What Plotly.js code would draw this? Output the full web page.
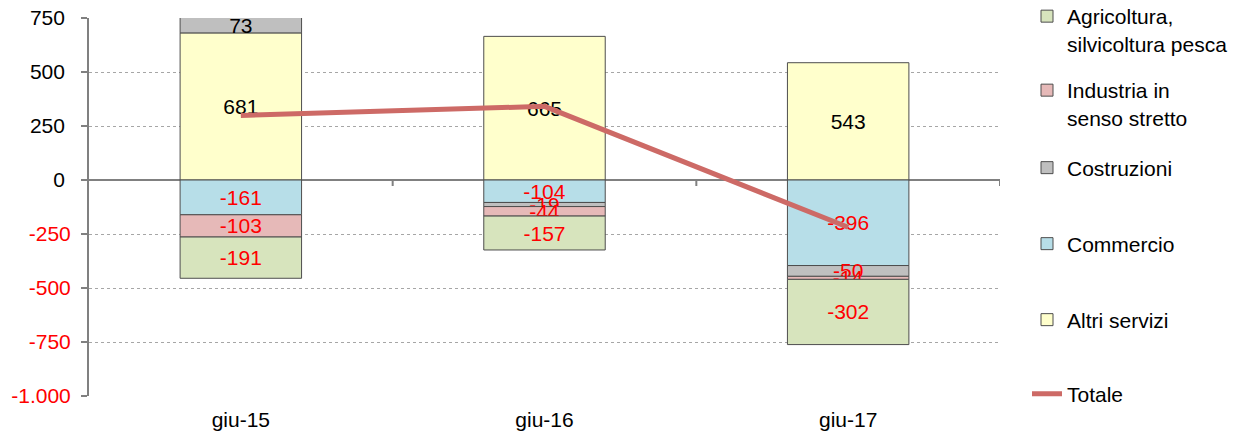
<!DOCTYPE html>
<html>
<head>
<meta charset="utf-8">
<script src="https://cdn.plot.ly/plotly-3.0.1.min.js"></script>
<style>html,body{margin:0;padding:0;background:#fff}#chart{width:1241px;height:434px}</style>
</head>
<body>
<div id="chart"></div>
<script>
const categories = ['giu-15', 'giu-16', 'giu-17'];
const agricoltura = [-191, -157, -302];
const industria = [-103, -44, -14];
const costruzioni = [73, -19, -50];
const commercio = [-161, -104, -396];
const altriServizi = [681, 665, 543];
const totale = [299, 341, -219];
const yTickVals = [-1000, -750, -500, -250, 0, 250, 500, 750];
const yTickText = ['-1.000', '-750', '-500', '-250', '0', '250', '500', '750'];

const FONT = 'Liberation Sans, Arial, sans-serif';
const FS = 21;

function barTrace(name, vals, color, legendId) {
  return {
    type: 'bar', name: name, x: categories, y: vals,
    marker: {color: color, line: {color: '#4d4d4d', width: 1}},
    text: vals.map(v => String(v)),
    textposition: 'inside', insidetextanchor: 'middle', constraintext: 'none', textangle: 0,
    textfont: {family: FONT, size: FS, color: vals.map(v => v < 0 ? '#ff0000' : '#000000')},
    hoverinfo: 'skip', legend: legendId
  };
}

const traces = [
  barTrace('Altri servizi', altriServizi, '#ffffcc', 'legend5'),
  barTrace('Commercio', commercio, '#b7dee8', 'legend4'),
  barTrace('Costruzioni', costruzioni, '#bfbfbf', 'legend3'),
  barTrace('Industria in<br>senso stretto', industria, '#e6b9b8', 'legend2'),
  barTrace('Agricoltura,<br>silvicoltura pesca', agricoltura, '#d7e4bd', 'legend'),
  {type: 'scatter', mode: 'lines', name: 'Totale', x: categories, y: totale,
   line: {color: '#cd6a66', width: 5}, hoverinfo: 'skip', legend: 'legend6'}
];

const W = 911, H = 378;
function px2x(px) { return (px - 89) / W; }
function px2y(py) { return (396 - py) / H; }
function leg(py, anchor) {
  return {x: px2x(1027), y: px2y(py), xanchor: 'left', yanchor: anchor,
          font: {family: FONT, size: FS, color: '#000'}, bgcolor: 'rgba(0,0,0,0)',
          valign: 'top', itemclick: false, itemdoubleclick: false};
}

const tickShapes = [0.5, 1.5, 2.5].map(x => ({
  type: 'line', xref: 'x', yref: 'y', x0: x, x1: x,
  ysizemode: 'pixel', yanchor: 0, y0: 0, y1: -6,
  line: {color: '#808080', width: 2}
}));

const layout = {
  width: 1241, height: 434,
  margin: {l: 89, r: 241, t: 18, b: 38, autoexpand: false},
  paper_bgcolor: '#fff', plot_bgcolor: '#fff',
  barmode: 'relative', bargap: 0.6,
  font: {family: FONT, size: FS, color: '#000'},
  showlegend: true,
  xaxis: {type: 'category', range: [-0.5, 2.5], showgrid: false, showline: false, ticks: '',
          zeroline: false, tickfont: {family: FONT, size: FS, color: '#000'}, ticklabelstandoff: 9,
          automargin: false},
  yaxis: {range: [-1000, 750], tickvals: yTickVals,
          ticktext: yTickText.map((t, i) => yTickVals[i] < 0 ? '<span style="color:#ff0000">' + t + '</span>' : t + '\u00a0'),
          showgrid: true, gridcolor: '#a6a6a6', griddash: 'dot', gridwidth: 1,
          zeroline: true, zerolinecolor: '#808080', zerolinewidth: 2,
          showline: true, linecolor: '#808080', linewidth: 2,
          ticks: 'outside', ticklen: 6, tickwidth: 2, tickcolor: '#808080',
          tickfont: {family: FONT, size: FS, color: '#000'}, ticklabelstandoff: 6,
          automargin: false},
  legend: leg(-4, 'top'),
  legend2: leg(70, 'top'),
  legend3: leg(168, 'middle'),
  legend4: leg(244, 'middle'),
  legend5: leg(320, 'middle'),
  legend6: leg(394, 'middle'),
  shapes: tickShapes
};

Plotly.newPlot('chart', traces, layout, {displayModeBar: false, staticPlot: true});
</script>
</body>
</html>
